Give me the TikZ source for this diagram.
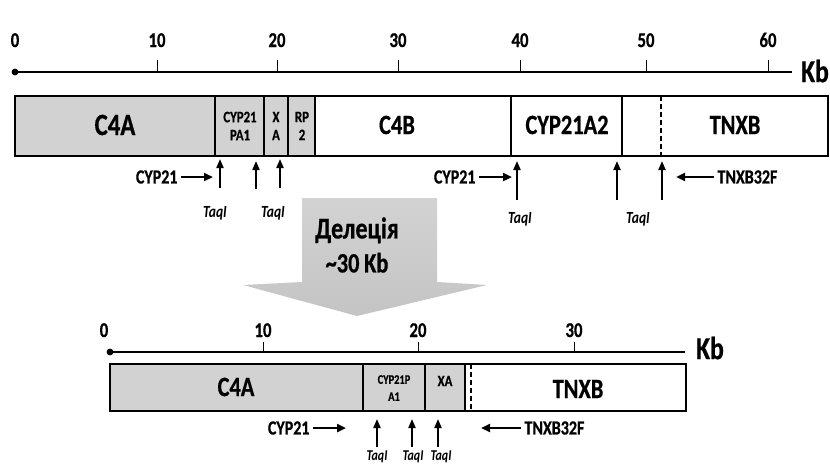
\documentclass[tikz,border=0pt]{standalone}
\usepackage{fontspec}
\setmainfont{Carlito}[FakeStretch=0.8, BoldFeatures={FakeBold=0.6}]
\usetikzlibrary{positioning, arrows.meta, calc}
\definecolor{genegray}{RGB}{210,210,210}
\definecolor{delgray}{RGB}{196,196,196}

\begin{document}
\begin{tikzpicture}[x=1pt, y=-1pt,
    axis/.style={line width=1.8pt},
    tickmark/.style={line width=1pt},
    ticklab/.style={font=\fontsize{21}{21}\selectfont\bfseries, anchor=base},
    gene/.style={draw, line width=1.6pt},
    glab/.style={font=\fontsize{28}{28}\selectfont\bfseries},
    slab/.style={font=\fontsize{16}{18}\selectfont\bfseries, align=center},
    plab/.style={font=\fontsize{20}{20}\selectfont\bfseries},
    tlab/.style={font=\fontsize{17}{17}\selectfont\bfseries\itshape},
    site/.style={-{Triangle[length=9pt,width=7pt]}, line width=2pt},
    primer/.style={-{Triangle[length=9pt,width=8pt]}, line width=2.4pt}]

    \useasboundingbox (0,0) rectangle (830,466);

    % full locus: scale
    \coordinate (ax0) at (15,72);
    \coordinate (ax1) at (792,72);
    \draw[axis] (ax0) -- (ax1);
    \fill (ax0) circle (3.4);
    \node[ticklab] (t0) at (15,47) {0};
    \foreach \x/\v in {157/10, 277/20, 398/30, 520/40, 646/50, 768/60} {
        \draw[tickmark] (\x,60) -- (\x,72);
        \node[ticklab] (t\v) at (\x,47) {\v};
    }
    \node[font=\fontsize{32}{32}\selectfont\bfseries] (kbA) at (815,71) {Kb};

    % full locus: genes
    \fill[genegray] (15,96) rectangle (315,156);
    \draw[gene] (15,96) rectangle (828,156);
    \foreach \x in {215, 264, 288, 315, 511, 622}
        \draw[gene] (\x,96) -- (\x,156);
    \draw[gene, dashed, dash pattern=on 5pt off 3pt] (661,96) -- (661,156);

    \node[glab, font=\fontsize{31}{31}\selectfont\bfseries] (c4a) at (115,125) {C4A};
    \node[slab] (cyp21pa) at (240,126) {CYP21\\PA1};
    \node[slab] (xa) at (276,126) {X\\A};
    \node[slab] (rp2) at (302,126) {RP\\2};
    \node[glab] (c4b) at (397,125) {C4B};
    \node[glab] (cyp21a2) at (567,125) {CYP21A2};
    \node[glab] (tnxb) at (735,125) {TNXB};

    % full locus: primers and TaqI sites
    \node[plab, anchor=east] (pA) at (181,177) {CYP21};
    \coordinate (pAend) at (213,177);
    \draw[primer] (pA) -- (pAend);
    \node[plab, anchor=east] (pB) at (479,177) {CYP21};
    \coordinate (pBend) at (512,177);
    \draw[primer] (pB) -- (pBend);
    \node[plab, anchor=west] (pC) at (714,177) {TNXB32F};
    \coordinate (pCend) at (676,177);
    \draw[primer] (pC) -- (pCend);

    \foreach \x/\a/\b in {220/188/159, 256/189/161, 280/188/159, 517/200/161, 617/200/161, 662/200/161}
        \draw[site] (\x,\a) -- (\x,\b);

    \node[tlab] (tq1) at (215,213) {TaqI};
    \node[tlab] (tq2) at (273,213) {TaqI};
    \node[tlab] (tq3) at (520,219) {TaqI};
    \node[tlab] (tq4) at (638,219) {TaqI};

    % deletion arrow
    \shade[top color=delgray!75, bottom color=delgray]
        (302,198) -- (437,198) -- (437,282) -- (487,285) -- (357,316)
        -- (243,285) -- (302,282) -- cycle;
    \node[font=\fontsize{30}{34}\selectfont\bfseries, align=center] (del) at (357,245) {Делеція\\\fontsize{28}{34}\selectfont{\textasciitilde}30\,Kb};

    % deleted locus: scale
    \coordinate (bx0) at (110,352);
    \coordinate (bx1) at (685,352);
    \draw[axis] (bx0) -- (bx1);
    \fill (bx0) circle (3.4);
    \node[ticklab] (b0) at (104,337) {0};
    \foreach \x/\v in {263/10, 418/20, 574/30} {
        \draw[tickmark] (\x,342) -- (\x,352);
        \node[ticklab] (b\v) at (\x,337) {\v};
    }
    \node[font=\fontsize{32}{32}\selectfont\bfseries] (kbB) at (710,348) {Kb};

    % deleted locus: genes
    \fill[genegray] (110,364) rectangle (465,411);
    \draw[gene] (110,364) rectangle (686,411);
    \foreach \x in {363, 425, 465}
        \draw[gene] (\x,364) -- (\x,411);
    \draw[gene, dashed, dash pattern=on 5pt off 3pt] (471,364) -- (471,411);

    \node[glab] (c4aB) at (236,387) {C4A};
    \node[slab, font=\fontsize{13}{17}\selectfont\bfseries] (cyp21paB) at (394,388) {CYP21P\\A1};
    \node[slab] (xaB) at (445,381) {XA};
    \node[glab] (tnxbB) at (578,389) {TNXB};

    % deleted locus: primers and TaqI sites
    \node[plab, anchor=east] (pD) at (313,428) {CYP21};
    \coordinate (pDend) at (346,428);
    \draw[primer] (pD) -- (pDend);
    \node[plab, anchor=west] (pE) at (521,428) {TNXB32F};
    \coordinate (pEend) at (481,428);
    \draw[primer] (pE) -- (pEend);

    \foreach \x in {377, 412, 438}
        \draw[site] (\x,447) -- (\x,419);

    \node[tlab, font=\fontsize{15}{15}\selectfont\bfseries\itshape] (tq5) at (377,457) {TaqI};
    \node[tlab, font=\fontsize{15}{15}\selectfont\bfseries\itshape] (tq6) at (413,457) {TaqI};
    \node[tlab, font=\fontsize{15}{15}\selectfont\bfseries\itshape] (tq7) at (441,457) {TaqI};
\end{tikzpicture}
\end{document}
